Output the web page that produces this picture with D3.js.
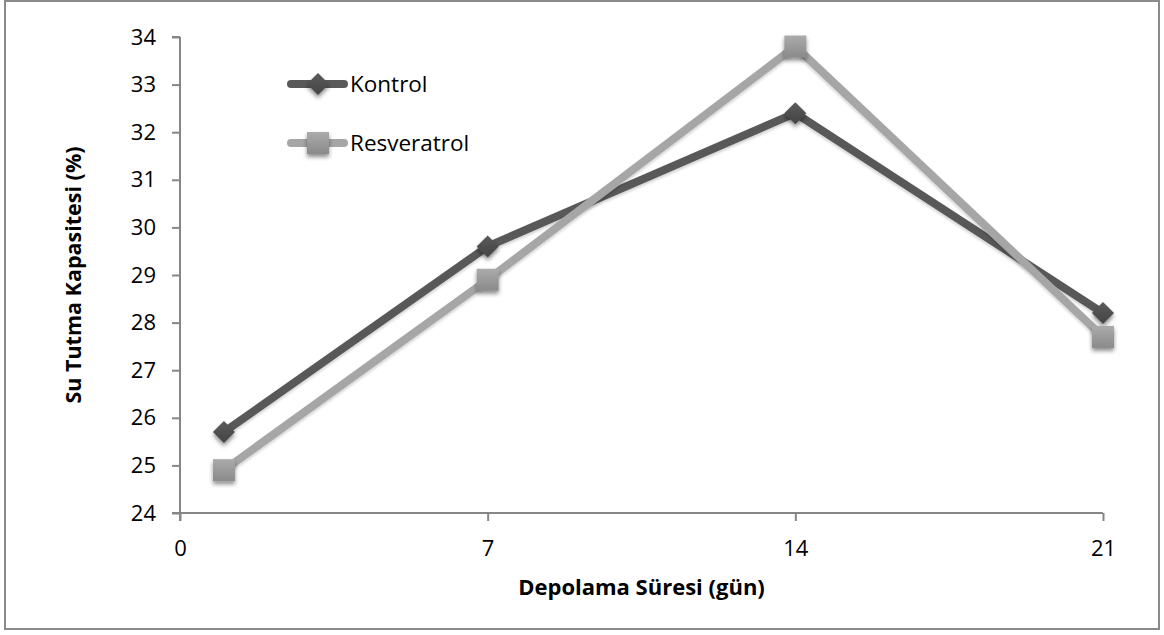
<!DOCTYPE html>
<html>
<head>
<meta charset="utf-8">
<script src="https://cdn.jsdelivr.net/npm/d3@7"></script>
<style>
  html, body { margin: 0; padding: 0; background: #fff; }
  svg { display: block; font-family: "Open Sans", "Liberation Sans", sans-serif; }
</style>
</head>
<body>
<svg id="chart" width="1164" height="635"></svg>
<script>
// Storage day (x) for each measurement
const days = [1, 7, 14, 21];
// Water holding capacity (%) per group
const kontrol = [25.7, 29.6, 32.4, 28.2];
const resveratrol = [24.9, 28.9, 33.8, 27.7];
// Axis ticks
const xTicks = [0, 7, 14, 21];
const yTicks = [24, 25, 26, 27, 28, 29, 30, 31, 32, 33, 34];
const seriesNames = ["Kontrol", "Resveratrol"];

const svg = d3.select("#chart");
const W = 1164, H = 635;
const margin = { left: 180, right: 61, top: 37, bottom: 122 };

// Outer frame
svg.append("rect")
  .attr("x", 5).attr("y", 1).attr("width", W - 10).attr("height", H - 7)
  .attr("fill", "#fff").attr("stroke", "#8a8a8a").attr("stroke-width", 2);

const x = d3.scaleLinear().domain([0, 21]).range([margin.left, W - margin.right]);
const y = d3.scaleLinear().domain([24, 34]).range([H - margin.bottom, margin.top]);

const defs = svg.append("defs");
const shadow = defs.append("filter").attr("id", "mshadow")
  .attr("x", "-50%").attr("y", "-50%").attr("width", "200%").attr("height", "200%");
shadow.append("feDropShadow").attr("dx", 0).attr("dy", 3).attr("stdDeviation", 2.2)
  .attr("flood-color", "#000").attr("flood-opacity", 0.45);
const lshadow = defs.append("filter").attr("id", "lshadow")
  .attr("x", "-10%").attr("y", "-10%").attr("width", "120%").attr("height", "120%");
lshadow.append("feDropShadow").attr("dx", 0).attr("dy", 2).attr("stdDeviation", 1.5)
  .attr("flood-color", "#000").attr("flood-opacity", 0.2);
const grad = defs.append("linearGradient").attr("id", "sqgrad")
  .attr("x1", 0).attr("y1", 0).attr("x2", 0).attr("y2", 1);
grad.append("stop").attr("offset", "0%").attr("stop-color", "#ababab");
grad.append("stop").attr("offset", "100%").attr("stop-color", "#8a8a8a");
const dgrad = defs.append("linearGradient").attr("id", "dgrad")
  .attr("x1", 0).attr("y1", 0).attr("x2", 0).attr("y2", 1);
dgrad.append("stop").attr("offset", "0%").attr("stop-color", "#5a5a5a");
dgrad.append("stop").attr("offset", "100%").attr("stop-color", "#444");

// Axes
const axisColor = "#868686";
const yAxis = svg.append("g")
  .attr("transform", `translate(${margin.left},0)`)
  .call(d3.axisLeft(y).tickValues(yTicks).tickSize(8).tickPadding(16).tickFormat(d3.format("d")));
const xAxis = svg.append("g")
  .attr("transform", `translate(0,${H - margin.bottom})`)
  .call(d3.axisBottom(x).tickValues(xTicks).tickSize(8).tickPadding(19).tickFormat(d3.format("d")));
[xAxis, yAxis].forEach(g => {
  g.select(".domain").attr("stroke", axisColor).attr("stroke-width", 2);
  g.selectAll(".tick line").attr("stroke", axisColor).attr("stroke-width", 2);
  g.selectAll(".tick text").attr("fill", "#000").style("font-size", "22px")
    .style("font-family", "'Open Sans', sans-serif");
});
// Extend y axis line down so it crosses below the x axis
yAxis.select(".domain").attr("d", `M0,${y(34)}H-8M0,${y(34)}V${y(24) + 8}`);
xAxis.select(".domain").attr("d", `M${x(0) - 8},0H${x(21)}`);

// Axis titles
svg.append("text")
  .attr("x", (x(0) + x(21)) / 2).attr("y", 595)
  .attr("text-anchor", "middle").attr("font-weight", "bold").attr("font-size", 22)
  .text("Depolama Süresi (gün)");
svg.append("text")
  .attr("transform", `translate(81,${(y(24) + y(34)) / 2}) rotate(-90)`)
  .attr("text-anchor", "middle").attr("font-weight", "bold").attr("font-size", 21.5)
  .text("Su Tutma Kapasitesi (%)");

const line = d3.line().x(d => x(d[0])).y(d => y(d[1]));
const series = [
  { name: seriesNames[0], values: kontrol, color: "#595959", marker: "diamond" },
  { name: seriesNames[1], values: resveratrol, color: "#a6a6a6", marker: "square" }
];

function drawMarker(g, type, cx, cy) {
  if (type === "diamond") {
    g.append("path")
      .attr("d", `M${cx},${cy - 11}L${cx + 11},${cy}L${cx},${cy + 11}L${cx - 11},${cy}Z`)
      .attr("fill", "url(#dgrad)").attr("filter", "url(#mshadow)");
  } else {
    g.append("rect")
      .attr("x", cx - 11).attr("y", cy - 11).attr("width", 22).attr("height", 22)
      .attr("fill", "url(#sqgrad)").attr("filter", "url(#mshadow)");
  }
}

const plot = svg.append("g");
series.forEach(s => {
  const pts = days.map((d, i) => [d, s.values[i]]);
  plot.append("path").datum(pts)
    .attr("d", line).attr("fill", "none")
    .attr("stroke", s.color).attr("stroke-width", 8)
    .attr("stroke-linejoin", "round").attr("stroke-linecap", "round")
    .attr("filter", "url(#lshadow)");
});
series.forEach(s => {
  const g = plot.append("g");
  days.forEach((d, i) => drawMarker(g, s.marker, x(d), y(s.values[i])));
});

// Legend
const legend = svg.append("g");
series.forEach((s, i) => {
  const ly = 84 + i * 59;
  legend.append("line")
    .attr("x1", 291).attr("x2", 344).attr("y1", ly).attr("y2", ly)
    .attr("stroke", s.color).attr("stroke-width", 8).attr("stroke-linecap", "round");
  drawMarker(legend, s.marker, 318, ly);
  legend.append("text")
    .attr("x", 350).attr("y", ly + 8)
    .attr("font-size", 22.5).attr("fill", "#000")
    .text(s.name);
});
</script>
</body>
</html>
